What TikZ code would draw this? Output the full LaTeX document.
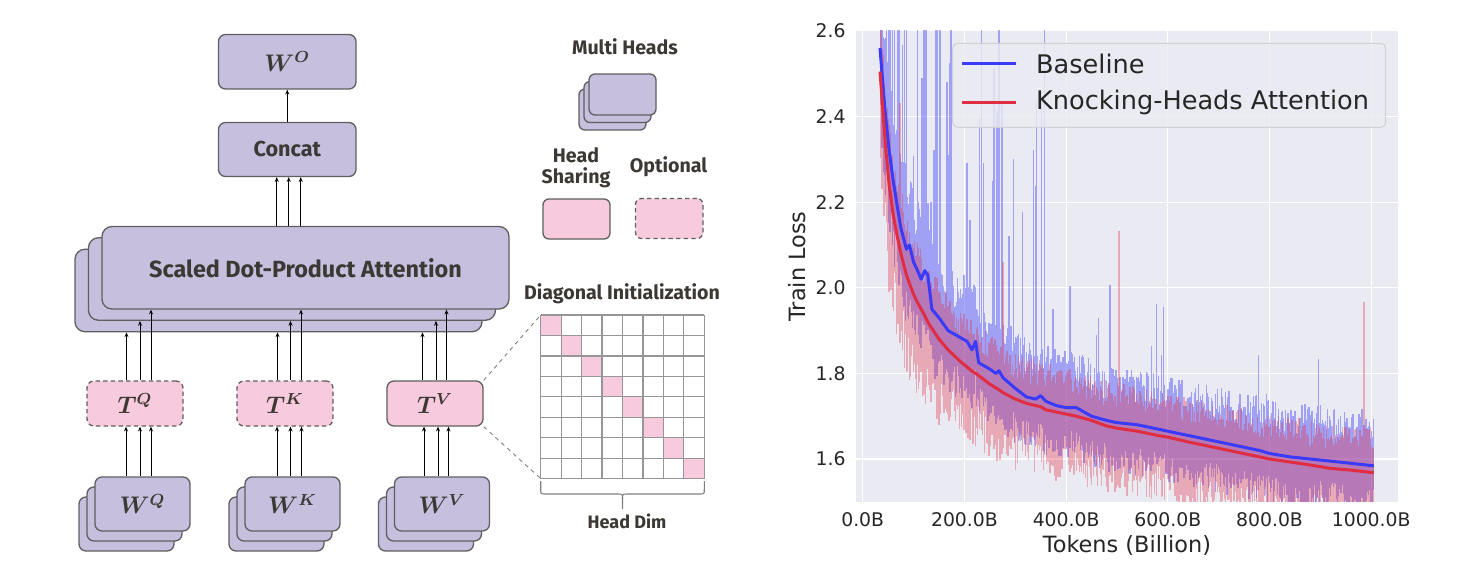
\documentclass[tikz,border=0pt]{standalone}
\usepackage{fontspec}
\usepackage{amsmath}
\usetikzlibrary{arrows.meta,calc}
\setmainfont{DejaVu Sans}
\newfontfamily\diagfont{Fira Sans}
\newfontfamily\chartfont{DejaVu Sans}
\definecolor{hpurple}{RGB}{198,191,222}
\definecolor{hpink}{RGB}{247,202,221}
\definecolor{hborder}{RGB}{95,95,95}
\definecolor{htext}{RGB}{60,56,52}
\definecolor{axbg}{RGB}{234,234,242}
\definecolor{bline}{RGB}{58,58,250}
\definecolor{rline}{RGB}{225,45,65}
\definecolor{ticktext}{RGB}{38,38,38}
\definecolor{gridgray}{RGB}{150,150,150}
\definecolor{legborder}{RGB}{208,208,214}
\newcommand{\hklab}[2]{\large$\boldsymbol{#1^{#2}}$}
\tikzset{
  pbox/.style={draw=hborder, line width=0.65pt, fill=hpurple, rounded corners=3.5pt, inner sep=0pt},
  kbox/.style={draw=hborder, line width=0.65pt, fill=hpink, rounded corners=3.5pt, inner sep=0pt},
  optbox/.style={kbox, dash pattern=on 2.2pt off 1.6pt},
  arr/.style={line width=0.45pt, -{Stealth[length=2.4pt,width=2pt]}},
  dbig/.style={text=htext, font=\diagfont\bfseries\fontsize{11.7}{14}\selectfont},
  dmid/.style={text=htext, font=\diagfont\bfseries\fontsize{10.8}{13}\selectfont},
  dsmall/.style={text=htext, font=\diagfont\bfseries\fontsize{9.8}{11.5}\selectfont, align=center},
  dtiny/.style={text=htext, font=\diagfont\bfseries\fontsize{9}{10}\selectfont},
  gridl/.style={draw=gridgray, line width=0.6pt},
  zoomline/.style={draw=gray, line width=0.45pt, dash pattern=on 2pt off 2pt},
  ticklab/.style={text=ticktext, font=\chartfont\fontsize{9.4}{11}\selectfont},
  axlab/.style={text=ticktext, font=\chartfont\fontsize{11.2}{13}\selectfont},
  leglab/.style={text=ticktext, font=\chartfont\fontsize{12.8}{15}\selectfont, anchor=west},
  rawb/.style={draw=bline, draw opacity=0.42, line width=0.7pt},
  rawr/.style={draw=rline, draw opacity=0.34, line width=0.7pt},
  smoothb/.style={draw=bline, line width=1.5pt, line join=round},
  smoothr/.style={draw=rline, line width=1.5pt, line join=round},
}
\def\knots{34/40/3/2.56/2.47/2.505/2.41, 40/45/3/2.47/2.40/2.41/2.33, 45/52/4/2.40/2.32/2.33/2.24, 52/60/4/2.32/2.25/2.24/2.17, 60/68/4/2.25/2.19/2.17/2.12, 68/75/4/2.19/2.14/2.12/2.08, 75/86/6/2.14/2.09/2.08/2.03, 86/92/3/2.09/2.10/2.03/2.01, 92/100/4/2.10/2.06/2.01/1.985, 100/108/4/2.06/2.04/1.985/1.965, 108/115/4/2.04/2.02/1.965/1.95, 115/122/4/2.02/2.04/1.95/1.935, 122/128/3/2.04/2.03/1.935/1.92, 128/136/4/2.03/1.95/1.92/1.905, 136/150/7/1.95/1.93/1.905/1.88, 150/168/9/1.93/1.90/1.88/1.855, 168/190/11/1.90/1.885/1.855/1.83, 190/205/8/1.885/1.875/1.83/1.815, 205/215/5/1.875/1.855/1.815/1.805, 215/222/4/1.855/1.875/1.805/1.80, 222/228/3/1.875/1.825/1.80/1.795, 228/250/11/1.825/1.81/1.795/1.775, 250/262/6/1.81/1.80/1.775/1.766, 262/268/3/1.80/1.806/1.766/1.762, 268/276/4/1.806/1.79/1.762/1.755, 276/300/12/1.79/1.765/1.755/1.74, 300/322/11/1.765/1.745/1.74/1.73, 322/340/9/1.745/1.74/1.73/1.725, 340/350/5/1.74/1.748/1.725/1.722, 350/360/5/1.748/1.735/1.722/1.715, 360/380/10/1.735/1.725/1.715/1.71, 380/400/10/1.725/1.72/1.71/1.705, 400/420/10/1.72/1.72/1.705/1.70, 420/450/15/1.72/1.70/1.70/1.69, 450/480/15/1.70/1.69/1.69/1.677, 480/500/10/1.69/1.685/1.677/1.672, 500/540/20/1.685/1.68/1.672/1.665, 540/580/20/1.68/1.67/1.665/1.655, 580/600/10/1.67/1.665/1.655/1.651, 600/640/20/1.665/1.655/1.651/1.64, 640/680/20/1.655/1.645/1.64/1.63, 680/700/10/1.645/1.64/1.63/1.625, 700/740/20/1.64/1.63/1.625/1.615, 740/780/20/1.63/1.62/1.615/1.605, 780/800/10/1.62/1.613/1.605/1.60, 800/840/20/1.613/1.605/1.60/1.593, 840/880/20/1.605/1.60/1.593/1.586, 880/920/20/1.60/1.595/1.586/1.578, 920/960/20/1.595/1.59/1.578/1.574, 960/1005/23/1.59/1.584/1.574/1.568}
\begin{document}
\begin{tikzpicture}[x=0.5pt,y=-0.5pt]
\useasboundingbox (0,0) rectangle (1462,583);
\fill[white] (0,0) rectangle (1462,583);

% ===== Left diagram =====
\node[pbox, minimum width=68.75pt, minimum height=27.25pt] (WO) at (287.25,61.75) {\color{htext}\hklab{W}{O}};
\node[pbox, minimum width=68.75pt, minimum height=27pt, dmid] (Concat) at (287.25,149.5) {Concat};

\node[pbox, rounded corners=5pt, minimum width=203.5pt, minimum height=41.25pt] (SDPAb) at (278.5,290.5) {};
\node[pbox, rounded corners=5pt, minimum width=203.5pt, minimum height=41.25pt] (SDPAm) at (292,279) {};
\node[pbox, rounded corners=5pt, minimum width=203.5pt, minimum height=41.25pt, dbig] (SDPAf) at (305.5,267.75) {Scaled Dot-Product Attention};

\node[optbox, minimum width=48pt, minimum height=22.5pt] (TQ) at (135,403.5) {\color{htext}\hklab{T}{Q}};
\node[optbox, minimum width=48pt, minimum height=22.5pt] (TK) at (285,403.5) {\color{htext}\hklab{T}{K}};
\node[kbox, minimum width=48pt, minimum height=22.5pt] (TV) at (435,403.5) {\color{htext}\hklab{T}{V}};

\foreach \g/\cx in {Q/142.5, K/292.5, V/442} {
  \node[pbox, minimum width=47.5pt, minimum height=27pt] (W\g-b) at ({\cx-16},524) {};
  \node[pbox, minimum width=47.5pt, minimum height=27pt] (W\g-m) at ({\cx-8},514) {};
  \node[pbox, minimum width=47.5pt, minimum height=27pt] (W\g-f) at (\cx,504) {\color{htext}\hklab{W}{\g}};
}

\draw[arr] (Concat.north) -- (WO.south);
\foreach \dx in {-10.5,1.5,13.5}
  \draw[arr] ([xshift=\dx*0.5pt]Concat.south |- SDPAf.north) -- ([xshift=\dx*0.5pt]Concat.south);

\foreach \g/\da/\db/\dc/\ea/\eb/\ec in {Q/-8.5/5/16/-9/5/16, K/-7.5/5.5/16/-8/5.5/16.5, V/-12.5/1/11.5/-11/3/13.5} {
  \draw[arr] ([xshift=\da*0.5pt]T\g.north) -- ([xshift=\da*0.5pt]T\g.north |- SDPAb.south);
  \draw[arr] ([xshift=\db*0.5pt]T\g.north) -- ([xshift=\db*0.5pt]T\g.north |- SDPAm.south);
  \draw[arr] ([xshift=\dc*0.5pt]T\g.north) -- ([xshift=\dc*0.5pt]T\g.north |- SDPAf.south);
  \draw[arr] ([xshift=\ea*0.5pt]T\g.south |- W\g-f.north) -- ([xshift=\ea*0.5pt]T\g.south);
  \draw[arr] ([xshift=\eb*0.5pt]T\g.south |- W\g-f.north) -- ([xshift=\eb*0.5pt]T\g.south);
  \draw[arr] ([xshift=\ec*0.5pt]T\g.south |- W\g-f.north) -- ([xshift=\ec*0.5pt]T\g.south);
}

% key
\node[dsmall] (tMH) at (625,47) {Multi Heads};
\node[pbox, rounded corners=3pt, minimum width=33.5pt, minimum height=20.5pt] (MHb) at (612.5,109.5) {};
\node[pbox, rounded corners=3pt, minimum width=33.5pt, minimum height=20.5pt] (MHm) at (617.5,102) {};
\node[pbox, rounded corners=3pt, minimum width=33.5pt, minimum height=20.5pt] (MHf) at (622.5,94.5) {};
\node[dsmall] (tHS) at (576,168) {Head\\[-1pt]Sharing};
\node[dsmall] (tOpt) at (668.5,167) {Optional};
\node[kbox, rounded corners=3pt, minimum width=33.5pt, minimum height=20pt] (HS) at (576.5,219) {};
\node[optbox, rounded corners=3pt, minimum width=33.75pt, minimum height=20pt] (OPT) at (669.25,218.5) {};

% diagonal initialization matrix
\node[dsmall] (tDiag) at (622,294) {Diagonal Initialization};
\foreach \k in {0,...,7}
  \fill[hpink] ({540.7+\k*20.45},{315+\k*20.45}) rectangle ++(20.45,20.45);
\foreach \k in {0,...,8} {
  \draw[gridl] ({540.7+\k*20.45},315) -- ({540.7+\k*20.45},478.6);
  \draw[gridl] (540.7,{315+\k*20.45}) -- (704.3,{315+\k*20.45});
}
\coordinate (Mtl) at (540.7,315);
\coordinate (Mbl) at (540.7,478.6);
\draw[zoomline] (TV.north east) -- (Mtl);
\draw[zoomline] (TV.south east) -- (Mbl);
\draw[draw=gray, line width=0.55pt] (540.7,481) -- (540.7,489) .. controls (540.7,494) .. (545.7,494) -- (617.5,494) .. controls (622.5,494) .. (622.5,499) -- (622.5,509);
\draw[draw=gray, line width=0.55pt] (704.3,481) -- (704.3,489) .. controls (704.3,494) .. (699.3,494) -- (627.5,494) .. controls (622.5,494) .. (622.5,499);
\node[dtiny] (tHD) at (627,521) {Head Dim};

% ===== Chart =====
\fill[axbg] (856,30.7) rectangle (1397.7,501.7);
\begin{scope}[shift={(862.7,1143.8)}, x=0.25425pt, y=214pt]
  \foreach \v in {1.6,1.8,2.0,2.2,2.4}
    \draw[white, line width=0.55pt] (-13.2,\v) -- (1052.1,\v);
  \foreach \b in {0,200,400,600,800,1000}
    \draw[white, line width=0.55pt] (\b,1.5) -- (\b,2.6007);
  \begin{scope}
    \clip (-13.2,1.5002) rectangle (1052.1,2.6007);
    \pgfmathsetseed{7}
    \draw[rawb] \foreach \ba/\bb/\n/\ua/\ub/\ra/\rb in \knots {
      \foreach \i in {1,...,\n} {
        ({\ba+(\bb-\ba)*\i/\n}, {\ua+(\ub-\ua)*\i/\n-(0.05+0.07*rnd)*(1+1.0*exp(-\ba/110))})
        -- ({\ba+(\bb-\ba)*\i/\n}, {\ua+(\ub-\ua)*\i/\n+(0.05+0.08*rnd)*(1+1.0*exp(-\ba/110))+(rnd<ifthenelse(\ba<360,0.24,ifthenelse(\ba<700,0.06,0.02)))*(0.04+ifthenelse(\ba<360,0.85,0.18)*rnd)})
      }
    };
    \draw[rawr] \foreach \ba/\bb/\n/\ua/\ub/\ra/\rb in \knots {
      \foreach \i in {1,...,\n} {
        ({\ba+(\bb-\ba)*\i/\n}, {\ra+(\rb-\ra)*\i/\n-(0.065+0.09*rnd)*(1+1.0*exp(-\ba/110))})
        -- ({\ba+(\bb-\ba)*\i/\n}, {\ra+(\rb-\ra)*\i/\n+(0.045+0.06*rnd)*(1+1.0*exp(-\ba/110))+(rnd<0.015)*(0.1+0.3*rnd)})
      }
    };
    \draw[smoothb] (34,2.56) \foreach \ba/\bb/\n/\ua/\ub/\ra/\rb in \knots { -- (\bb,\ub) };
    \draw[smoothr] (34,2.505) \foreach \ba/\bb/\n/\ua/\ub/\ra/\rb in \knots { -- (\bb,\rb) };
  \end{scope}
\end{scope}

% ticks
\foreach \v in {1.6,1.8,2.0,2.2,2.4,2.6}
  \node[ticklab, anchor=east, inner sep=0pt] (yt\v) at (846,{31+(2.6-\v)*428}) {\v};
\foreach \b/\lab in {0/0.0B,200/200.0B,400/400.0B,600/600.0B,800/800.0B,1000/1000.0B}
  \node[ticklab, inner sep=0pt] (xt\b) at ({862.7+0.5085*\b},520) {\lab};
\node[axlab, rotate=90] (ylab) at (797,266.5) {Train Loss};
\node[axlab] (xlab) at (1127,545) {Tokens (Billion)};

% legend
\draw[draw=legborder, fill=axbg, fill opacity=0.8, line width=0.5pt, rounded corners=2.5pt] (952.7,43.3) rectangle (1385.7,127.3);
\draw[smoothb] (962,64) -- (1016,64);
\draw[smoothr] (962,102.3) -- (1016,102.3);
\node[leglab] (lb) at (1029,64) {Baseline};
\node[leglab] (lk) at (1029,102.5) {Knocking-Heads Attention};
\end{tikzpicture}
\end{document}
